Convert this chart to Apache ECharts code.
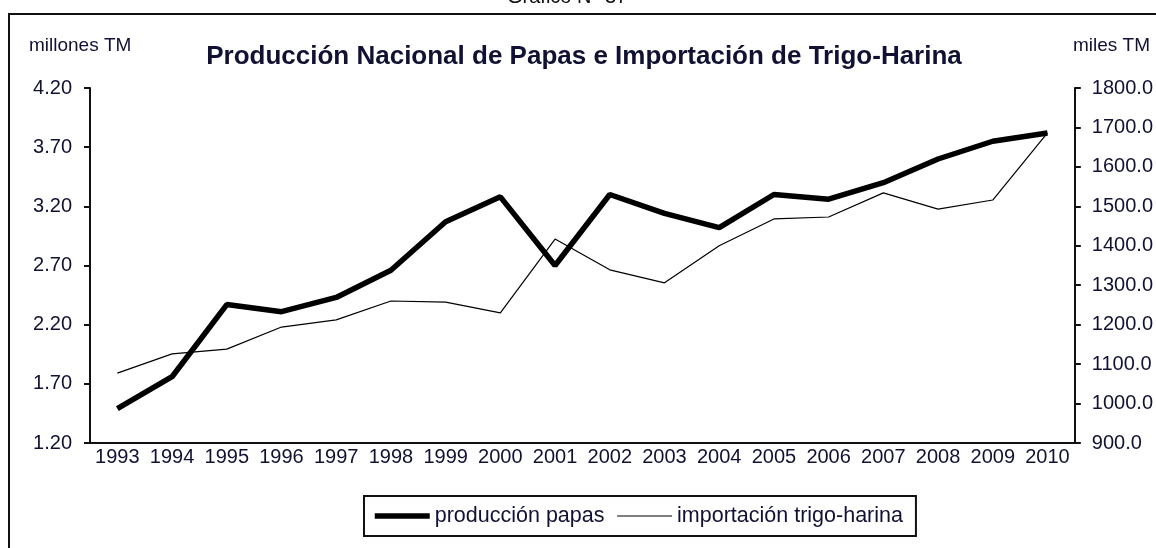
<!DOCTYPE html>
<html>
<head>
<meta charset="utf-8">
<title>Producción Nacional de Papas e Importación de Trigo-Harina</title>
<script src="https://cdn.jsdelivr.net/npm/echarts@6/dist/echarts.min.js"></script>
<style>
  html, body { margin: 0; padding: 0; background: #fff; }
  #chart { width: 1156px; height: 548px; }
</style>
</head>
<body>
<div id="chart"></div>
<script>
// años
var years = ["1993", "1994", "1995", "1996", "1997", "1998", "1999", "2000", "2001",
  "2002", "2003", "2004", "2005", "2006", "2007", "2008", "2009", "2010"];
// producción papas (millones TM)
var papas = [1.49, 1.76, 2.37, 2.31, 2.43, 2.66, 3.07, 3.28, 2.70,
  3.30, 3.14, 3.02, 3.30, 3.26, 3.40, 3.60, 3.75, 3.82];
// importación trigo-harina (miles TM)
var trigo = [1077, 1126, 1138, 1194, 1212, 1260, 1257, 1230, 1417,
  1339, 1306, 1400, 1468, 1473, 1534, 1493, 1516, 1686];

var font = "Liberation Sans, Arial, sans-serif";
var txt = "#111133";

var chart = echarts.init(document.getElementById("chart"));
chart.setOption({
  animation: false,
  textStyle: { fontFamily: font },
  title: {
    text: "Producción Nacional de Papas e Importación de Trigo-Harina",
    left: 584,
    textAlign: "center",
    top: 44,
    padding: 0,
    textStyle: { fontSize: 26, fontWeight: "bold", color: txt, fontFamily: font }
  },
  graphic: [
    { type: "text", left: 507, top: -13, style: { text: "Gráfico N° 37", font: "20px " + font, fill: "#111" } },
    { type: "line", shape: { x1: 8, y1: 14, x2: 1156, y2: 14 }, style: { stroke: "#111", lineWidth: 2 } },
    { type: "line", shape: { x1: 9, y1: 14, x2: 9, y2: 548 }, style: { stroke: "#111", lineWidth: 2 } },
    { type: "text", left: 29, top: 36, style: { text: "millones TM", font: "19px " + font, fill: txt } },
    { type: "text", left: 1073, top: 36, style: { text: "miles TM", font: "19px " + font, fill: txt } }
  ],
  legend: {
    left: 364,
    top: 496,
    padding: [9, 13, 9, 8],
    itemGap: 12,
    itemWidth: 55,
    itemHeight: 14,
    borderColor: "#111",
    borderWidth: 2,
    textStyle: { fontSize: 21.5, color: txt, fontFamily: font },
    data: [
      { name: "producción papas", itemStyle: { opacity: 0 }, lineStyle: { width: 5.5, color: "#000" } },
      { name: "importación trigo-harina", itemStyle: { opacity: 0 }, lineStyle: { width: 1.2, color: "#000" } }
    ]
  },
  grid: { left: 90, right: 81, top: 88, bottom: 105 },
  xAxis: {
    type: "category",
    data: years,
    boundaryGap: true,
    axisLine: { lineStyle: { color: "#111", width: 2 } },
    axisTick: { length: 7, lineStyle: { color: "#111", width: 2 } },
    axisLabel: { interval: 0, fontSize: 20, margin: 4, color: txt, fontFamily: font },
    splitLine: { show: false }
  },
  yAxis: [
    {
      type: "value",
      min: 1.2,
      max: 4.2,
      interval: 0.5,
      axisLine: { show: true, lineStyle: { color: "#111", width: 2 } },
      axisTick: { show: true, length: 6, lineStyle: { color: "#111", width: 2 } },
      axisLabel: {
        fontSize: 20, margin: 18, color: txt, fontFamily: font,
        formatter: function (v) { return v.toFixed(2); }
      },
      splitLine: { show: false }
    },
    {
      type: "value",
      min: 900,
      max: 1800,
      interval: 100,
      position: "right",
      axisLine: { show: true, lineStyle: { color: "#111", width: 2 } },
      axisTick: { show: true, length: 6, lineStyle: { color: "#111", width: 2 } },
      axisLabel: {
        fontSize: 20, margin: 17, color: txt, fontFamily: font,
        formatter: function (v) { return v.toFixed(1); }
      },
      splitLine: { show: false }
    }
  ],
  series: [
    {
      name: "producción papas",
      type: "line",
      yAxisIndex: 0,
      data: papas,
      symbol: "none",
      color: "#000",
      lineStyle: { color: "#000", width: 5.5 }
    },
    {
      name: "importación trigo-harina",
      type: "line",
      yAxisIndex: 1,
      data: trigo,
      symbol: "none",
      color: "#000",
      lineStyle: { color: "#000", width: 1.2 }
    }
  ]
});
</script>
</body>
</html>
